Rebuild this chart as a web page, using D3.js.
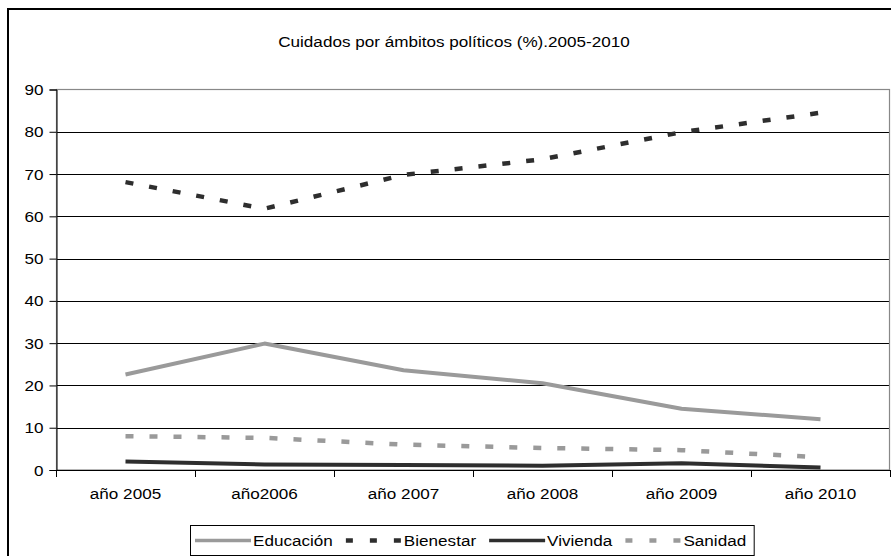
<!DOCTYPE html>
<html>
<head>
<meta charset="utf-8">
<script src="https://cdn.jsdelivr.net/npm/d3@7"></script>
<style>
  body { margin: 0; background: #fff; }
  text { font-family: "Liberation Sans", Arial, sans-serif; fill: #000; }
</style>
</head>
<body>
<div id="chart"></div>
<script>
// data
var categories = ["año 2005", "año2006", "año 2007", "año 2008", "año 2009", "año 2010"];
var educacion = [22.6, 29.9, 23.6, 20.5, 14.5, 12.0];
var bienestar = [68.1, 61.8, 69.8, 73.5, 79.9, 84.5];
var vivienda = [2.0, 1.3, 1.2, 1.0, 1.6, 0.6];
var sanidad = [8.0, 7.6, 6.0, 5.2, 4.7, 3.0];
var seriesNames = ["Educación", "Bienestar", "Vivienda", "Sanidad"];
var yTicks = [0, 10, 20, 30, 40, 50, 60, 70, 80, 90];
var title = "Cuidados por ámbitos políticos (%).2005-2010";

var width = 891, height = 556;
var plot = {left: 56, right: 890, top: 89.5, bottom: 470};
var stretch = 1.14;   // source text looks horizontally stretched
var fontSize = "15px";

// line styles per series
var styles = [
  {color: "#9a9a9a", width: 4, dash: null},
  {color: "#2e2e2e", width: 4.5, dash: "8,16"},
  {color: "#2e2e2e", width: 4, dash: null},
  {color: "#9a9a9a", width: 4.5, dash: "8,16"}
];
var seriesValues = [educacion, bienestar, vivienda, sanidad];

var svg = d3.select("#chart").append("svg")
  .attr("width", width)
  .attr("height", height);

// stretch each text horizontally around its anchor
function stretchText(sel) {
  sel.each(function() {
    var t = d3.select(this);
    var x = +t.attr("x") || 0, y = +t.attr("y") || 0;
    t.attr("x", 0).attr("y", 0)
      .attr("transform", "translate(" + x + "," + y + ") scale(" + stretch + ",1)");
  });
}

//outer chart border
svg.append("rect")
  .attr("x", 8).attr("y", 9)
  .attr("width", 900).attr("height", 560)
  .attr("fill", "none")
  .attr("stroke", "#000")
  .attr("stroke-width", 2);

//title
svg.append("text")
  .attr("x", 454).attr("y", 47)
  .attr("text-anchor", "middle")
  .style("font-size", fontSize)
  .text(title)
  .call(stretchText);

//scales
var x = d3.scaleBand()
  .domain(categories)
  .range([plot.left, plot.right]);

var y = d3.scaleLinear()
  .domain([0, 90])
  .range([plot.bottom, plot.top]);

//gridlines
svg.append("g")
  .selectAll("line")
  .data(yTicks.filter(d => d > 0 && d < 90))
  .enter()
  .append("line")
    .attr("x1", plot.left).attr("x2", plot.right)
    .attr("y1", d => Math.round(y(d)) + 0.5)
    .attr("y2", d => Math.round(y(d)) + 0.5)
    .attr("stroke", "#000")
    .attr("stroke-width", 1);

//plot area border (grey)
svg.append("rect")
  .attr("x", plot.left + 0.5).attr("y", plot.top)
  .attr("width", plot.right - plot.left - 1)
  .attr("height", plot.bottom - plot.top)
  .attr("fill", "none")
  .attr("stroke", "#888")
  .attr("stroke-width", 1.2);

//y axis
var yAxis = svg.append("g")
  .attr("transform", "translate(" + (plot.left + 0.5) + ",0)")
  .call(d3.axisLeft(y).tickValues(yTicks).tickSize(7).tickPadding(6));
yAxis.selectAll("path, line").attr("stroke", "#000");
yAxis.selectAll("text")
  .style("font-size", fontSize)
  .style("font-family", "Liberation Sans, Arial, sans-serif")
  .attr("dy", "0.34em")
  .call(stretchText);

//x axis line
svg.append("line")
  .attr("x1", plot.left).attr("x2", plot.right)
  .attr("y1", plot.bottom + 0.5).attr("y2", plot.bottom + 0.5)
  .attr("stroke", "#000");

//x ticks between categories
var boundaries = categories.map(c => x(c)).concat([x(categories[categories.length - 1]) + x.bandwidth()]);
svg.append("g")
  .selectAll("line")
  .data(boundaries)
  .enter()
  .append("line")
    .attr("x1", d => Math.round(d) + 0.5).attr("x2", d => Math.round(d) + 0.5)
    .attr("y1", plot.bottom).attr("y2", plot.bottom + 7)
    .attr("stroke", "#000");

//x labels
svg.append("g")
  .selectAll("text")
  .data(categories)
  .enter()
  .append("text")
    .attr("x", d => x(d) + x.bandwidth() / 2)
    .attr("y", 499)
    .attr("text-anchor", "middle")
    .style("font-size", fontSize)
    .text(d => d)
    .call(stretchText);

//series lines
var line = d3.line()
  .x((d, i) => x(categories[i]) + x.bandwidth() / 2)
  .y(d => y(d));

svg.append("g")
  .selectAll("path")
  .data(seriesValues)
  .enter()
  .append("path")
    .attr("d", d => line(d))
    .attr("fill", "none")
    .attr("stroke", (d, i) => styles[i].color)
    .attr("stroke-width", (d, i) => styles[i].width)
    .attr("stroke-dasharray", (d, i) => styles[i].dash)
    .attr("stroke-linejoin", "round");

//legend
var legend = svg.append("g").attr("class", "legend");
var legendBox = legend.append("rect")
  .attr("y", 525.5)
  .attr("height", 30)
  .attr("fill", "#fff")
  .attr("stroke", "#000")
  .attr("stroke-width", 1);

var lx = 195, ly = 540.5, sampleLen = 56;
seriesNames.forEach(function(name, i) {
  legend.append("line")
    .attr("x1", lx).attr("x2", lx + sampleLen)
    .attr("y1", ly).attr("y2", ly)
    .attr("stroke", styles[i].color)
    .attr("stroke-width", styles[i].dash ? 4.5 : 3.5)
    .attr("stroke-dasharray", styles[i].dash ? "7,17" : null);
  var t = legend.append("text")
    .attr("x", lx + sampleLen + 2)
    .attr("y", ly + 5.5)
    .style("font-size", fontSize)
    .text(name);
  var w = t.node().getComputedTextLength() * stretch;
  t.call(stretchText);
  lx = lx + sampleLen + 2 + w + 13;
});
legendBox.attr("x", 190.5).attr("width", lx - 13 + 8 - 190.5);
</script>
</body>
</html>
